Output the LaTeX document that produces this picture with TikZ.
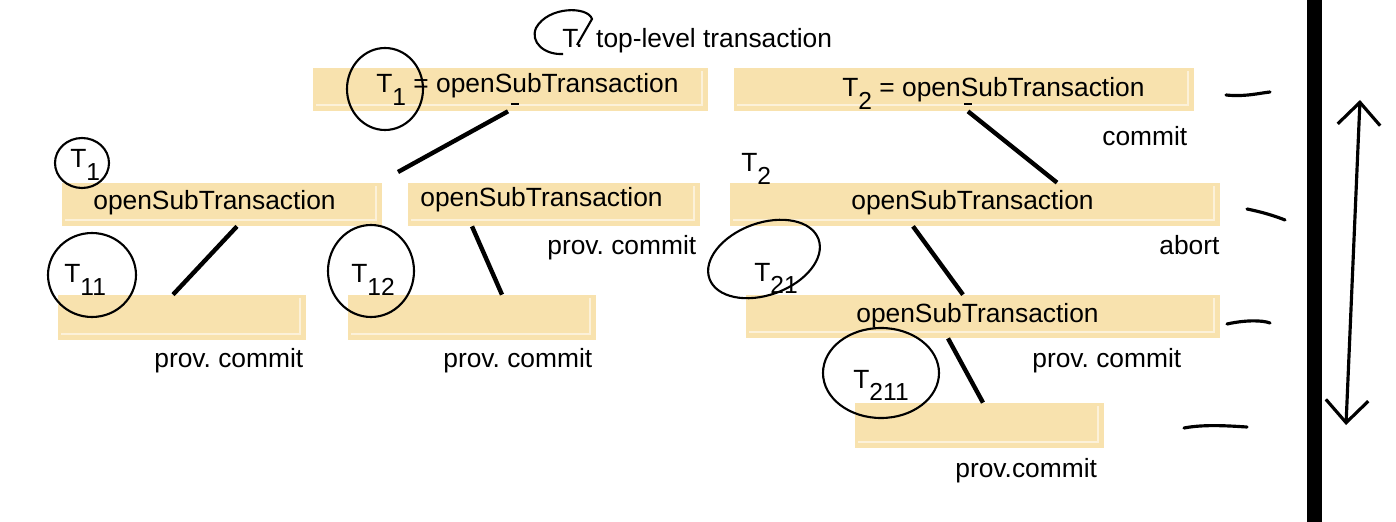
\documentclass[tikz,border=0pt]{standalone}
\usepackage{fontspec}
\setmainfont{Liberation Sans}
\usetikzlibrary{arrows.meta, fit}
\frenchspacing

\definecolor{boxtan}{HTML}{F8E2AE}
\definecolor{boxlight}{HTML}{FCF1D9}

\newcommand{\Tsub}[1]{T\raisebox{-2.5mm}{\fontsize{14}{14}\selectfont #1}}

\tikzset{
	box/.style = {fill = boxtan, inner sep = 0pt, path picture = {
		\draw [boxlight, line width = 0.6pt] ([shift = {(0.6mm, 1.2mm)}]path picture bounding box.south west) -- ([shift = {(-1.2mm, 1.2mm)}]path picture bounding box.south east) -- ([shift = {(-1.2mm, -0.6mm)}]path picture bounding box.north east);
	}},
	lbl/.style = {anchor = base west, inner sep = 0pt, font = \fontsize{15}{18}\selectfont},
	link/.style = {line width = 2.5pt},
	ring/.style = {line width = 1.2pt},
	stroke/.style = {line width = 1.8pt, line cap = round},
}

\begin{document}
\begin{tikzpicture}[x = 0.2mm, y = -0.2mm]

	\useasboundingbox (0, 0) rectangle (1396, 522);

	% Boxes

	\node [box, fit = {(313, 68) (708, 111)}] (openT1) {};
	\node [box, fit = {(734, 68) (1194, 111)}] (openT2) {};
	\node [box, fit = {(62, 183) (382, 226)}] (openT11) {};
	\node [box, fit = {(408, 183) (700, 226)}] (openT12) {};
	\node [box, fit = {(730, 183) (1220, 226)}] (openT21) {};
	\node [box, fit = {(58, 295) (306, 340)}] (runT11) {};
	\node [box, fit = {(348, 295) (596, 340)}] (runT12) {};
	\node [box, fit = {(746, 295) (1220, 338)}] (openT211) {};
	\node [box, fit = {(855, 403) (1104, 448)}] (runT211) {};

	% Labels

	\node [lbl] (toplabel) at (562, 48) {T.\hspace{1.2mm} top-level transaction};
	\node [lbl] (labelA) at (376, 93) {\Tsub{1} = openSubTransaction};
	\node [lbl] (labelB) at (842, 97) {\Tsub{2} = openSubTransaction};
	\node [lbl] (commitB) at (1102, 146) {commit};
	\node [lbl] (nameT1) at (70, 168) {\Tsub{1}};
	\node [lbl] (labelC) at (93, 210) {openSubTransaction};
	\node [lbl] (labelD) at (420, 207) {openSubTransaction};
	\node [lbl] (commitD) at (547, 255) {prov. commit};
	\node [lbl] (nameT2) at (741, 172) {\Tsub{2}};
	\node [lbl] (labelE) at (851, 210) {openSubTransaction};
	\node [lbl] (abortE) at (1159, 255) {abort};
	\node [lbl] (nameT11) at (64, 283) {\Tsub{11}};
	\node [lbl] (nameT12) at (351, 283) {\Tsub{12}};
	\node [lbl] (nameT21) at (754, 281) {\Tsub{21}};
	\node [lbl] (labelH) at (856, 322) {openSubTransaction};
	\node [lbl] (commitF) at (154, 367) {prov. commit};
	\node [lbl] (commitG) at (443, 367) {prov. commit};
	\node [lbl] (commitH) at (1032, 367) {prov. commit};
	\node [lbl] (nameT211) at (853, 388) {\Tsub{211}};
	\node [lbl] (commitI) at (955, 477) {prov.commit};

	% Links

	\coordinate (crossT1) at (398, 172);
	\draw [link] ([xshift = -0.5mm] openT1.south) -- (crossT1);
	\draw [link] ([xshift = 0.8mm] openT2.south) -- ([xshift = 16.4mm] openT21.north);
	\draw [link] ([xshift = 3mm] openT11.south) -- ([xshift = -1.8mm] runT11.north);
	\draw [link] ([xshift = -16.4mm] openT12.south) -- ([xshift = 6mm] runT12.north);
	\draw [link] ([xshift = -12.4mm] openT21.south) -- ([xshift = -4mm] openT211.north);
	\draw [link] ([xshift = -7mm] openT211.south) -- ([xshift = 0.7mm] runT211.north);

	\draw [line width = 0.8pt] (511, 104) -- (519, 104);
	\draw [line width = 0.8pt] (964, 104) -- (972, 104);

	% Rings

	\draw [ring] (577, 45) -- (592, 19) .. controls (588, 6) and (548, 6) .. (536, 28) .. controls (530, 42) and (544, 55) .. (563, 54);
	\draw [ring] (385, 89) ellipse [x radius = 38, y radius = 41];
	\draw [ring] (82, 163) ellipse [x radius = 27, y radius = 25];
	\draw [ring] (92, 275) ellipse [x radius = 44, y radius = 42];
	\draw [ring] (371, 271) ellipse [x radius = 43, y radius = 46];
	\draw [ring, rotate around = {20 : (764, 259)}] (764, 259) ellipse [x radius = 58, y radius = 36];
	\draw [ring] (881, 373) ellipse [x radius = 58, y radius = 45];

	% Marks

	\draw [stroke] (1226, 95) .. controls (1245, 97) and (1260, 93) .. (1270, 92);
	\draw [stroke] (1247, 209) .. controls (1262, 212) and (1275, 216) .. (1285, 220);
	\draw [stroke] (1227, 324) .. controls (1245, 320) and (1262, 320) .. (1270, 323);
	\draw [stroke] (1184, 428) .. controls (1205, 424) and (1230, 426) .. (1247, 427);

	\fill (1307, 0) rectangle (1322, 522);
	\draw [stroke, {Straight Barb[length = 4.5mm, width = 8.5mm]}-{Straight Barb[length = 4.5mm, width = 8.5mm]}] (1360, 100) -- (1346, 425);

\end{tikzpicture}
\end{document}
